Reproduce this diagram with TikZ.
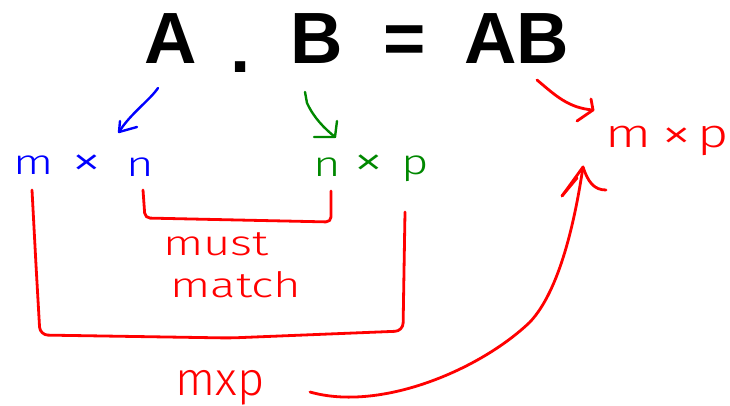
\documentclass[tikz,border=0pt]{standalone}
\usepackage{fontspec}
\setmainfont{Liberation Sans}
\newfontfamily\hand[FakeStretch=1.35]{Fira Sans Light}
\newfontfamily\handn{Fira Sans Light}
\definecolor{inkblue}{RGB}{0,0,255}
\definecolor{inkgreen}{RGB}{0,136,0}
\definecolor{inkred}{RGB}{255,0,0}
\begin{document}
\begin{tikzpicture}[x=1pt,y=-1pt,
  title/.style={font=\fontsize{72.6}{80}\selectfont\bfseries, inner sep=0, anchor=base},
  handtxt/.style={font=\hand\fontsize{35}{38}\selectfont, inner sep=0, anchor=base},
  handx/.style={font=\hand\fontsize{46}{48}\selectfont, inner sep=0, anchor=base},
  handbig/.style={font=\hand\fontsize{40}{42}\selectfont, inner sep=0, anchor=base},
  handtall/.style={font=\handn\fontsize{47}{50}\selectfont, inner sep=0, anchor=base},
  ink/.style={line width=2.8pt, line cap=round, line join=round},
  inkthin/.style={line width=2.4pt, line cap=round, line join=round},
]
\fill[white] (0,0) rectangle (730,406);
\useasboundingbox (0,0) rectangle (730,406);

% title
\node[title] (A) at (171,64) {A};
\node[title] (dot) at (241,73) {.};
\node[title] (B) at (316.5,64) {B};
\node[title] (eq) at (404.5,64) {=};
\node[title] (AB) at (516.5,64) {AB};

% blue m x n
\node[handtxt, text=inkblue] (bm) at (34,175) {m};
\node[handx, text=inkblue] (bx) at (87,177) {×};
\node[handtxt, text=inkblue] (bn) at (140,176) {n};

% green n x p
\node[handtxt, text=inkgreen] (gn) at (327,177) {n};
\node[handx, text=inkgreen] (gx) at (369,177) {×};
\node[handtxt, text=inkgreen] (gp) at (415,175) {p};

% right red m x p
\node[handbig, text=inkred] (rm) at (629,148) {m};
\node[handx, text=inkred] (rx) at (677,150) {×};
\node[handbig, text=inkred] (rp) at (713,148) {p};

% must match
\node[handtxt, text=inkred] (must) at (216,255) {must};
\node[handtxt, text=inkred] (match) at (236,297) {match};

% bottom mxp
\node[handtall, text=inkred] (bmxp) at (220,395) {mxp};

% coordinates
\coordinate (a1) at (158,88);
\coordinate (a2) at (119,132);
\coordinate (b1) at (305,92);
\coordinate (b2) at (335,137);
\coordinate (c1) at (537,80);
\coordinate (c2) at (593,110);
\coordinate (d1) at (310,392);
\coordinate (d2) at (583,167);

% blue arrow
\draw[inkthin, inkblue] (a1) .. controls (150,100) and (130,114) .. (a2);
\draw[inkthin, inkblue] (120,121) -- (a2) -- (137,127);

% green arrow
\draw[inkthin, inkgreen] (b1) -- (307,103) .. controls (314,118) and (324,128) .. (b2);
\draw[inkthin, inkgreen] (337,121) -- (b2) -- (314,137);

% red top arrow
\draw[ink, inkred] (c1) .. controls (555,95) and (568,108) .. (c2);
\draw[ink, inkred] (591,99) -- (c2) -- (577,121);

% must-match bracket
\draw[ink, inkred, rounded corners=5pt] (143,190) -- (145,218) -- (331,222) -- (331,191);

% big bracket
\draw[ink, inkred, rounded corners=8pt] (32,190) -- (36,265) -- (40,335) -- (230,338) -- (403,331) -- (405,212);

% big curved arrow
\draw[ink, inkred] (d1) .. controls (380,412) and (480,370) .. (530,322)
   .. controls (560,290) and (575,220) .. (d2);
\draw[ink, inkred] (562,196) -- (d2) .. controls (588,182) and (594,190) .. (606,190);
\draw[ink, inkred] (562,196) -- (577,178);
\end{tikzpicture}
\end{document}
